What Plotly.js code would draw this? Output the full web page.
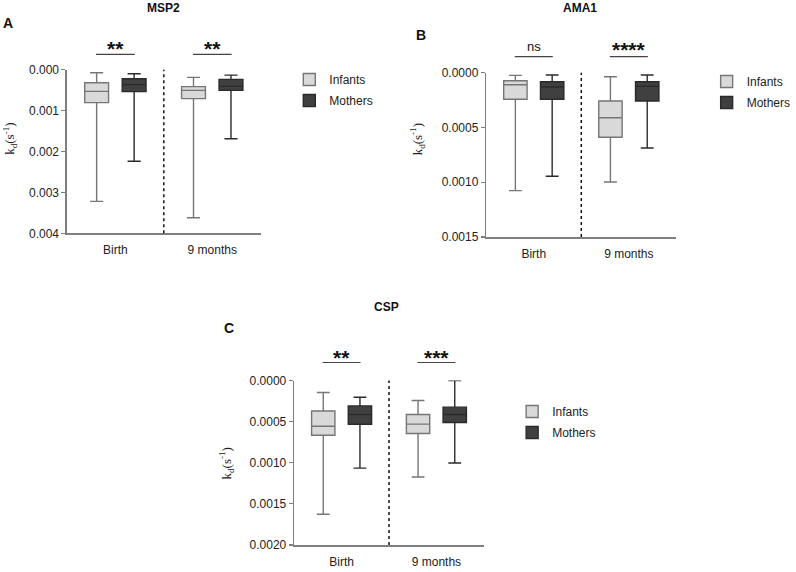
<!DOCTYPE html>
<html>
<head>
<meta charset="utf-8">
<script src="https://cdn.plot.ly/plotly-3.0.1.min.js"></script>
<style>html,body{margin:0;padding:0;background:#fff}#chart{width:796px;height:572px}</style>
</head>
<body>
<div id="chart"></div>
<script>
// ---- Data (kd values, s^-1) ----
const timepoints = ['Birth', '9 months'];
const groups = ['Infants', 'Mothers'];

// MSP2
const msp2InfantsLower  = [0.000073, 0.000188];
const msp2InfantsQ1     = [0.000320, 0.000415];
const msp2InfantsMedian = [0.000530, 0.000505];
const msp2InfantsQ3     = [0.000805, 0.000707];
const msp2InfantsUpper  = [0.003220, 0.003620];
const msp2MothersLower  = [0.000100, 0.000132];
const msp2MothersQ1     = [0.000220, 0.000237];
const msp2MothersMedian = [0.000366, 0.000407];
const msp2MothersQ3     = [0.000537, 0.000505];
const msp2MothersUpper  = [0.002240, 0.001690];

// AMA1
const ama1InfantsLower  = [0.000024, 0.000037];
const ama1InfantsQ1     = [0.000073, 0.000258];
const ama1InfantsMedian = [0.000110, 0.000411];
const ama1InfantsQ3     = [0.000243, 0.000590];
const ama1InfantsUpper  = [0.001077, 0.000998];
const ama1MothersLower  = [0.000021, 0.000021];
const ama1MothersQ1     = [0.000082, 0.000082];
const ama1MothersMedian = [0.000130, 0.000124];
const ama1MothersQ3     = [0.000243, 0.000258];
const ama1MothersUpper  = [0.000946, 0.000687];

// CSP
const cspInfantsLower  = [0.000146, 0.000243];
const cspInfantsQ1     = [0.000370, 0.000413];
const cspInfantsMedian = [0.000556, 0.000530];
const cspInfantsQ3     = [0.000666, 0.000644];
const cspInfantsUpper  = [0.001626, 0.001174];
const cspMothersLower  = [0.000203, 0.000000];
const cspMothersQ1     = [0.000309, 0.000324];
const cspMothersMedian = [0.000415, 0.000413];
const cspMothersQ3     = [0.000532, 0.000510];
const cspMothersUpper  = [0.001065, 0.001003];

// Significance labels
const msp2Sig = ['**', '**'];
const ama1Sig = ['ns', '****'];
const cspSig  = ['**', '***'];

// Y ticks
const msp2Ticks = [0, 0.001, 0.002, 0.003, 0.004];
const ama1Ticks = [0, 0.0005, 0.001, 0.0015];
const cspTicks  = [0, 0.0005, 0.001, 0.0015, 0.002];

// ---- Layout helpers ----
const W = 796, H = 572;
const px = v => v / W;
const py = v => 1 - v / H;
const FONT = 'Liberation Sans, Arial, sans-serif';
const infFill = '#d9d9d9', infLine = '#767676';
const motFill = '#404040', motLine = '#2a2a2a';

function boxTrace(name, panel, xa, ya, leg, lo, q1, med, q3, up) {
  const inf = name === 'Infants';
  return {
    type: 'box', name: name, x: timepoints,
    lowerfence: lo, q1: q1, median: med, q3: q3, upperfence: up,
    xaxis: xa, yaxis: ya, legend: leg, showlegend: true,
    legendgroup: panel + name,
    alignmentgroup: panel, offsetgroup: name,
    fillcolor: inf ? infFill : motFill,
    line: {color: inf ? infLine : motLine, width: 1.4},
    whiskerwidth: 0.55, boxpoints: false, hoverinfo: 'y'
  };
}

const data = [
  boxTrace('Infants', 'A', 'x',  'y',  'legend',  msp2InfantsLower, msp2InfantsQ1, msp2InfantsMedian, msp2InfantsQ3, msp2InfantsUpper),
  boxTrace('Mothers', 'A', 'x',  'y',  'legend',  msp2MothersLower, msp2MothersQ1, msp2MothersMedian, msp2MothersQ3, msp2MothersUpper),
  boxTrace('Infants', 'B', 'x2', 'y2', 'legend2', ama1InfantsLower, ama1InfantsQ1, ama1InfantsMedian, ama1InfantsQ3, ama1InfantsUpper),
  boxTrace('Mothers', 'B', 'x2', 'y2', 'legend2', ama1MothersLower, ama1MothersQ1, ama1MothersMedian, ama1MothersQ3, ama1MothersUpper),
  boxTrace('Infants', 'C', 'x3', 'y3', 'legend3', cspInfantsLower, cspInfantsQ1, cspInfantsMedian, cspInfantsQ3, cspInfantsUpper),
  boxTrace('Mothers', 'C', 'x3', 'y3', 'legend3', cspMothersLower, cspMothersQ1, cspMothersMedian, cspMothersQ3, cspMothersUpper)
];

const panels = [
  {xa: 'xaxis',  ya: 'yaxis',  xr: 'x',  yr: 'y',  x0: 68.5,  x1: 266.7, y0: 69.7,  y1: 233.3, ymax: 0.004,  ticks: msp2Ticks, fmt: '.3f', sig: msp2Sig,
   title: 'MSP2', tx: 167.7, ty: 8, label: 'A', lx: 8, ly: 23, sigY: 45, lineY: 54.3, ytx: 10, yty: 139, legX: 296, legY: 65},
  {xa: 'xaxis2', ya: 'yaxis2', xr: 'x2', yr: 'y2', x0: 497.5, x1: 692,   y0: 72.7,  y1: 237,   ymax: 0.0015, ticks: ama1Ticks, fmt: '.4f', sig: ama1Sig,
   title: 'AMA1', tx: 593, ty: 8, label: 'B', lx: 431, ly: 35, sigY: 46, lineY: 56.7, ytx: 427, yty: 139, legX: 723, legY: 67},
  {xa: 'xaxis3', ya: 'yaxis3', xr: 'x3', yr: 'y3', x0: 301,   x1: 495,   y0: 380.5, y1: 545,   ymax: 0.002,  ticks: cspTicks,  fmt: '.4f', sig: cspSig,
   title: 'CSP', tx: 395, ty: 307, label: 'C', lx: 234, ly: 328, sigY: 353, lineY: 362.5, ytx: 231.7, yty: 463, legX: 524, legY: 397}
];

const layout = {
  width: W, height: H,
  margin: {l: 0, r: 0, t: 0, b: 0},
  paper_bgcolor: '#fff', plot_bgcolor: '#fff',
  font: {family: FONT, size: 12, color: '#222'},
  boxmode: 'group', boxgap: 0.226, boxgroupgap: 0.364,
  shapes: [], annotations: []
};

panels.forEach((p, i) => {
  layout[p.xa] = {
    domain: [px(p.x0), px(p.x1)], anchor: p.yr,
    type: 'category', range: [-0.5, 1.5], fixedrange: true,
    showline: true, linecolor: '#7f7f7f', linewidth: 1.5,
    ticks: '', ticklabelstandoff: 5, showgrid: false, zeroline: false,
    tickfont: {family: FONT, size: 12, color: '#222'}
  };
  layout[p.ya] = {
    domain: [py(p.y1), py(p.y0)], anchor: p.xr,
    range: [p.ymax, 0], fixedrange: true,
    tickvals: p.ticks, tickformat: p.fmt,
    showline: true, linecolor: '#7f7f7f', linewidth: 1.5,
    ticks: 'outside', ticklen: 4, tickwidth: 1.2, tickcolor: '#7f7f7f',
    showgrid: false, zeroline: false,
    tickfont: {family: FONT, size: 12, color: '#222'}
  };
  const legKey = i === 0 ? 'legend' : 'legend' + (i + 1);
  layout[legKey] = {
    x: px(p.legX), y: py(p.legY), xanchor: 'left', yanchor: 'top',
    bgcolor: 'rgba(0,0,0,0)', borderwidth: 0, traceorder: 'grouped', tracegroupgap: 2,
    font: {family: FONT, size: 12, color: '#222'}
  };
  // dotted separator between time points
  layout.shapes.push({type: 'line', xref: p.xr, yref: p.yr + ' domain', x0: 0.5, x1: 0.5, y0: 0, y1: 1,
    line: {color: '#111', width: 1.5, dash: 'dot'}});
  // significance bars
  [0, 1].forEach(k => {
    layout.shapes.push({type: 'line', xref: p.xr, yref: 'paper', x0: k - 0.2, x1: k + 0.2,
      y0: py(p.lineY), y1: py(p.lineY), line: {color: '#444', width: 1.2}});
    const isNs = p.sig[k] === 'ns';
    layout.annotations.push({xref: p.xr, yref: 'paper', x: k, y: py(p.sigY + (isNs ? 0 : 4)),
      text: isNs ? p.sig[k] : '<b>' + p.sig[k] + '</b>', showarrow: false,
      font: {family: FONT, size: isNs ? 13 : 21, color: '#111'}, xanchor: 'center', yanchor: 'middle'});
  });
  // panel title
  layout.annotations.push({xref: 'paper', yref: 'paper', x: px(p.tx), y: py(p.ty), text: '<b>' + p.title + '</b>',
    showarrow: false, font: {family: FONT, size: 12, color: '#111'}, xanchor: 'center', yanchor: 'middle'});
  // panel letter
  layout.annotations.push({xref: 'paper', yref: 'paper', x: px(p.lx), y: py(p.ly), text: '<b>' + p.label + '</b>',
    showarrow: false, font: {family: FONT, size: 14, color: '#111'}, xanchor: 'center', yanchor: 'middle'});
  // y-axis title
  layout.annotations.push({xref: 'paper', yref: 'paper', x: px(p.ytx), y: py(p.yty),
    text: 'k<sub>d</sub>(s<sup>-1</sup>)', textangle: -90, showarrow: false,
    font: {family: 'Liberation Serif, Times New Roman, serif', size: 13, color: '#222'}, xanchor: 'center', yanchor: 'middle'});
});

Plotly.newPlot('chart', data, layout, {displayModeBar: false, staticPlot: true});
</script>
</body>
</html>
